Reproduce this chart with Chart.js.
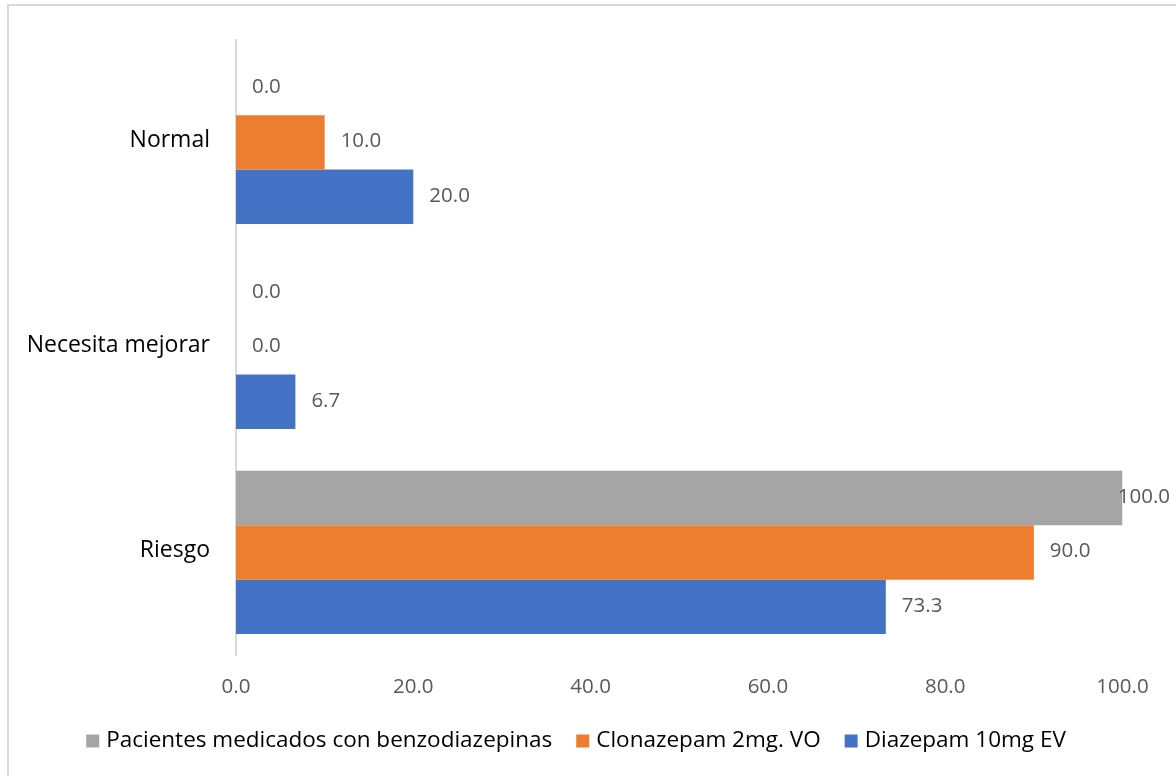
<!DOCTYPE html>
<html>
<head>
<meta charset="utf-8">
<script src="https://cdn.jsdelivr.net/npm/chart.js@4"></script>
<style>
  html, body { margin: 0; padding: 0; background: #fff; }
  #chartContainer { width: 1176px; height: 776px; position: relative; }
</style>
</head>
<body>
<div id="chartContainer"><canvas id="resultsChart" width="1176" height="776"></canvas></div>
<script>
// chart data
const categories = ['Normal', 'Necesita mejorar', 'Riesgo'];
const seriesNames = ['Pacientes medicados con benzodiazepinas', 'Clonazepam 2mg. VO', 'Diazepam 10mg EV'];
const pacientesValues = [0.0, 0.0, 100.0];
const clonazepamValues = [10.0, 0.0, 90.0];
const diazepamValues = [20.0, 6.7, 73.3];
const xTickValues = [0, 20, 40, 60, 80, 100];

const seriesColors = ['#a5a5a5', '#ed7d31', '#4472c4'];
const FONT = '"Open Sans", "Noto Sans", sans-serif';

// frame around the chart (top and left edges visible)
const framePlugin = {
    id: 'frame',
    beforeDraw(chart) {
        const ctx = chart.ctx;
        ctx.save();
        ctx.fillStyle = '#ffffff';
        ctx.fillRect(0, 0, chart.width, chart.height);
        ctx.strokeStyle = '#d9d9d9';
        ctx.lineWidth = 2;
        ctx.strokeRect(8, 5, chart.width + 20, chart.height + 20);
        ctx.restore();
    }
};

// value labels at the end of each bar
const valueLabelsPlugin = {
    id: 'valueLabels',
    afterDatasetsDraw(chart) {
        const ctx = chart.ctx;
        ctx.save();
        ctx.font = '20.5px ' + FONT;
        ctx.fillStyle = '#595959';
        ctx.textBaseline = 'middle';
        ctx.textAlign = 'left';
        chart.data.datasets.forEach((ds, i) => {
            const meta = chart.getDatasetMeta(i);
            meta.data.forEach((bar, j) => {
                const text = ds.data[j].toFixed(1);
                const w = ctx.measureText(text).width;
                let x = bar.x + 16;
                if (x + w > chart.width - 6) x = chart.width - 6 - w;
                ctx.fillText(text, x, bar.y - 1);
            });
        });
        ctx.restore();
    }
};

// legend drawn under the axis
const bottomLegendPlugin = {
    id: 'bottomLegend',
    afterDraw(chart) {
        const ctx = chart.ctx;
        ctx.save();
        ctx.font = '22.5px ' + FONT;
        ctx.textBaseline = 'middle';
        const box = 13, boxGap = 7, itemGap = 24;
        const widths = seriesNames.map(n => ctx.measureText(n).width);
        const total = widths.reduce((a, w) => a + box + boxGap + w, 0) + itemGap * (seriesNames.length - 1);
        let x = 576 - total / 2;
        const y = 741;
        seriesNames.forEach((name, i) => {
            ctx.fillStyle = seriesColors[i];
            ctx.fillRect(x, y - box / 2, box, box);
            x += box + boxGap;
            ctx.fillStyle = '#000000';
            ctx.fillText(name, x, y);
            x += widths[i] + itemGap;
        });
        ctx.restore();
    }
};

const ctx = document.getElementById('resultsChart').getContext('2d');
new Chart(ctx, {
    type: 'bar',
    data: {
        labels: categories,
        datasets: [
            { label: seriesNames[0], data: pacientesValues, backgroundColor: seriesColors[0] },
            { label: seriesNames[1], data: clonazepamValues, backgroundColor: seriesColors[1] },
            { label: seriesNames[2], data: diazepamValues, backgroundColor: seriesColors[2] }
        ]
    },
    options: {
        indexAxis: 'y',
        responsive: false,
        animation: false,
        layout: { padding: { top: 33, right: 53.5, bottom: 0, left: 0 } },
        datasets: {
            bar: { barPercentage: 1.0, categoryPercentage: 0.796 }
        },
        plugins: {
            legend: { display: false },
            tooltip: { enabled: false }
        },
        scales: {
            x: {
                min: 0,
                max: 100,
                afterBuildTicks(scale) {
                    scale.ticks = xTickValues.map(v => ({ value: v }));
                },
                afterFit(scale) { scale.height = 121; },
                grid: { display: false, drawTicks: false },
                border: { display: false },
                ticks: {
                    padding: 20,
                    color: '#595959',
                    font: { family: FONT, size: 20.5 },
                    callback: v => Number(v).toFixed(1)
                }
            },
            y: {
                afterFit(scale) { scale.width = 236; },
                grid: { display: false, drawTicks: false },
                border: { display: true, color: '#d9d9d9', width: 2 },
                ticks: {
                    padding: 26,
                    labelOffset: -2,
                    color: '#000000',
                    font: { family: FONT, size: 23 }
                }
            }
        }
    },
    plugins: [framePlugin, valueLabelsPlugin, bottomLegendPlugin]
});
</script>
</body>
</html>
